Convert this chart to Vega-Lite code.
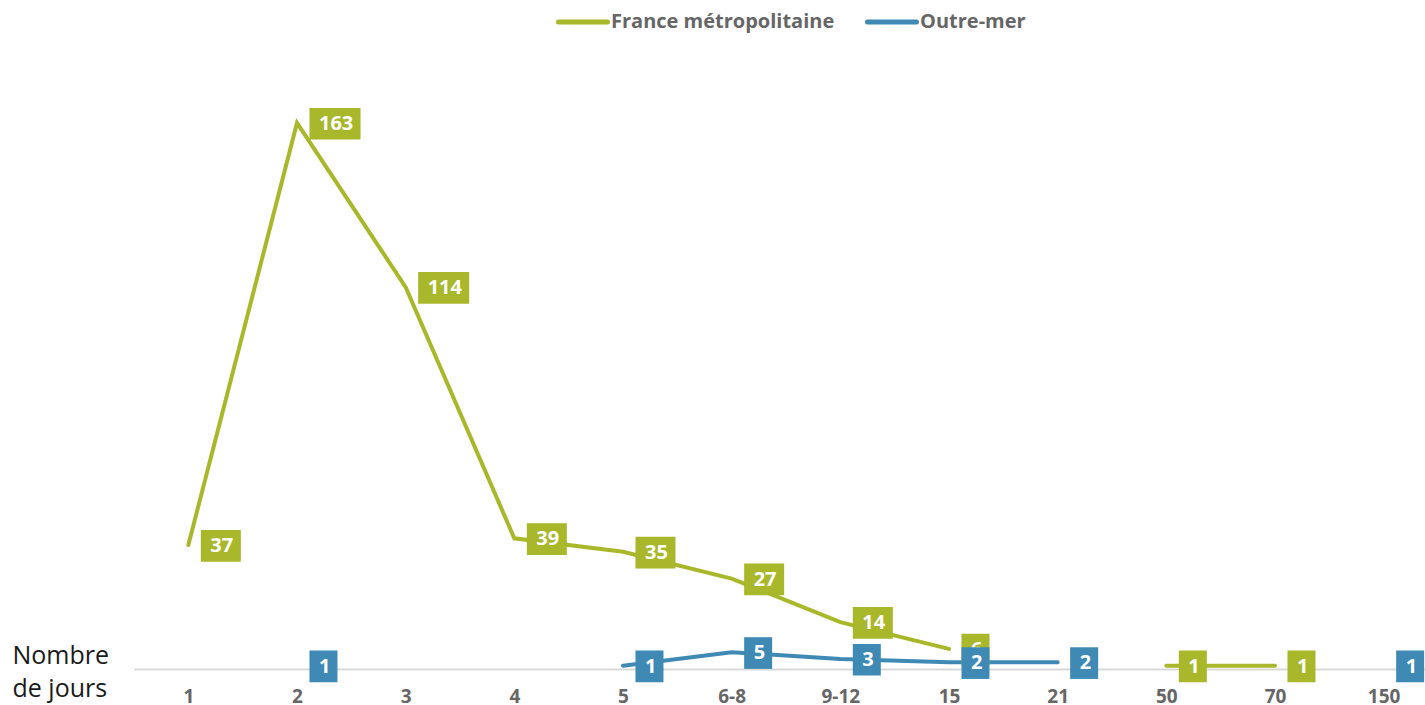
{
  "$schema": "https://vega.github.io/schema/vega-lite/v6.json",
  "autosize": {"type": "none"},
  "padding": {"left": 134, "top": 66, "right": 0, "bottom": 36},
  "width": 1291,
  "height": 603,
  "config": {
    "view": {"stroke": null},
    "font": "Open Sans"
  },
  "data": {
    "values": [
      {"jours": "1", "serie": "France métropolitaine", "n": 37},
      {"jours": "2", "serie": "France métropolitaine", "n": 163},
      {"jours": "3", "serie": "France métropolitaine", "n": 114},
      {"jours": "4", "serie": "France métropolitaine", "n": 39},
      {"jours": "5", "serie": "France métropolitaine", "n": 35},
      {"jours": "6-8", "serie": "France métropolitaine", "n": 27},
      {"jours": "9-12", "serie": "France métropolitaine", "n": 14},
      {"jours": "15", "serie": "France métropolitaine", "n": 6},
      {"jours": "21", "serie": "France métropolitaine", "n": null},
      {"jours": "50", "serie": "France métropolitaine", "n": 1},
      {"jours": "70", "serie": "France métropolitaine", "n": 1},
      {"jours": "2", "serie": "Outre-mer", "n": 1},
      {"jours": "3", "serie": "Outre-mer", "n": null},
      {"jours": "4", "serie": "Outre-mer", "n": null},
      {"jours": "5", "serie": "Outre-mer", "n": 1},
      {"jours": "6-8", "serie": "Outre-mer", "n": 5},
      {"jours": "9-12", "serie": "Outre-mer", "n": 3},
      {"jours": "15", "serie": "Outre-mer", "n": 2},
      {"jours": "21", "serie": "Outre-mer", "n": 2},
      {"jours": "50", "serie": "Outre-mer", "n": null},
      {"jours": "70", "serie": "Outre-mer", "n": null},
      {"jours": "150", "serie": "Outre-mer", "n": 1}
    ]
  },
  "encoding": {
    "x": {
      "field": "jours",
      "type": "ordinal",
      "sort": ["1", "2", "3", "4", "5", "6-8", "9-12", "15", "21", "50", "70", "150"],
      "scale": {
        "type": "point",
        "domain": ["1", "2", "3", "4", "5", "6-8", "9-12", "15", "21", "50", "70", "150"],
        "range": [0, 1304],
        "padding": 0.5
      },
      "axis": {
        "labelAngle": 0,
        "labelFont": "Open Sans",
        "labelFontWeight": "bold",
        "labelFontSize": 19,
        "labelColor": "#666666",
        "labelPadding": 18,
        "ticks": false,
        "grid": false,
        "domainColor": "#d9d9d9",
        "domainWidth": 2,
        "title": ["Nombre", "de jours"],
        "titleFont": "Open Sans",
        "titleFontWeight": "normal",
        "titleFontSize": 25,
        "titleColor": "#1a1a1a",
        "titleAlign": "left",
        "titleBaseline": "top",
        "titleAnchor": "start",
        "titleLineHeight": 33,
        "titleX": -122,
        "titleY": -26
      }
    },
    "y": {
      "field": "n",
      "type": "quantitative",
      "scale": {"domain": [0, 180], "nice": false},
      "axis": null
    }
  },
  "layer": [
    {
      "transform": [
        {"filter": "!(datum.serie == 'Outre-mer' && (datum.jours == '2' || datum.jours == '150'))"}
      ],
      "mark": {"type": "line", "strokeWidth": 4, "strokeCap": "round", "invalid": "break-paths-show-domains"},
      "encoding": {
        "color": {
          "field": "serie",
          "type": "nominal",
          "scale": {"domain": ["France métropolitaine", "Outre-mer"], "range": ["#a8b82a", "#3f8ab5"]},
          "legend": {
            "title": null,
            "orient": "none",
            "direction": "horizontal",
            "legendX": 422,
            "legendY": -71,
            "padding": 0,
            "symbolType": "stroke",
            "symbolSize": 2400,
            "symbolStrokeWidth": 5,
            "labelOffset": 1,
            "labelLimit": 0,
            "columnPadding": 22,
            "labelFont": "Open Sans",
            "labelFontWeight": "bold",
            "labelFontSize": 20,
            "labelColor": "#666666",
            "encode": {"symbols": {"update": {"strokeCap": {"value": "round"}}}}
          }
        }
      }
    },
    {
      "transform": [{"filter": "datum.serie == 'France métropolitaine' && datum.n != null"}],
      "mark": {"type": "point", "filled": true, "opacity": 1, "size": 1024, "color": "#a8b82a", "strokeWidth": 0},
      "encoding": {
        "shape": {
          "condition": [
            {"test": "datum.n >= 100", "value": "M0.78,-0.94L3.97,-0.94L3.97,1.04L0.78,1.04Z"},
            {"test": "datum.n >= 10", "value": "M0.78,-0.94L3.28,-0.94L3.28,1.04L0.78,1.04Z"}
          ],
          "value": "M0.78,-0.94L2.53,-0.94L2.53,1.04L0.78,1.04Z"
        }
      }
    },
    {
      "transform": [{"filter": "datum.serie == 'France métropolitaine' && datum.n != null"}],
      "mark": {"type": "text", "align": "left", "baseline": "middle", "dx": 22, "dy": 1, "font": "Open Sans", "fontWeight": "bold", "fontSize": 20, "color": "#ffffff"},
      "encoding": {"text": {"field": "n", "type": "quantitative"}}
    },
    {
      "transform": [{"filter": "datum.serie == 'Outre-mer' && datum.n != null"}],
      "mark": {"type": "point", "filled": true, "opacity": 1, "size": 1024, "color": "#3f8ab5", "strokeWidth": 0},
      "encoding": {
        "shape": {
          "condition": [
            {"test": "datum.n >= 100", "value": "M0.78,-0.94L3.97,-0.94L3.97,1.04L0.78,1.04Z"},
            {"test": "datum.n >= 10", "value": "M0.78,-0.94L3.28,-0.94L3.28,1.04L0.78,1.04Z"}
          ],
          "value": "M0.78,-0.94L2.53,-0.94L2.53,1.04L0.78,1.04Z"
        }
      }
    },
    {
      "transform": [{"filter": "datum.serie == 'Outre-mer' && datum.n != null"}],
      "mark": {"type": "text", "align": "left", "baseline": "middle", "dx": 22, "dy": 1, "font": "Open Sans", "fontWeight": "bold", "fontSize": 20, "color": "#ffffff"},
      "encoding": {"text": {"field": "n", "type": "quantitative"}}
    }
  ]
}
